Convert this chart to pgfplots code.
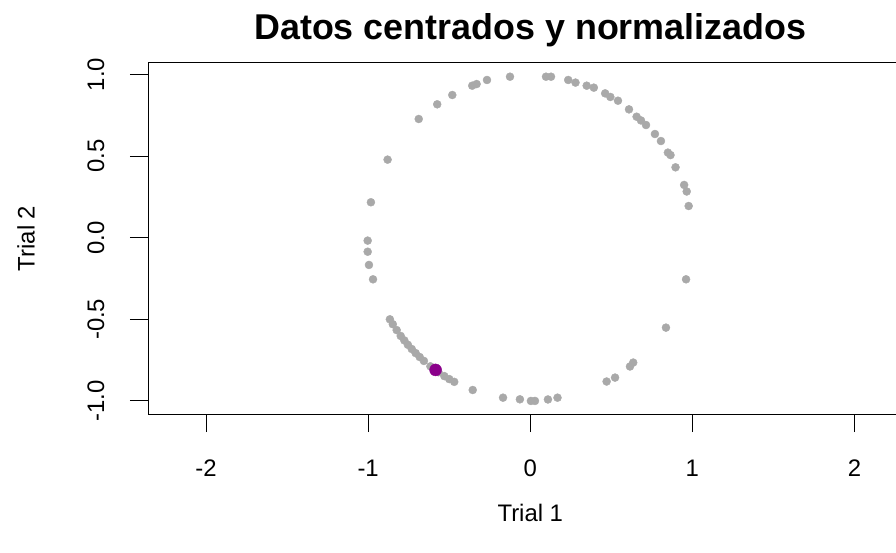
\documentclass[border=0pt]{standalone}
\usepackage{pgfplots}
\pgfplotsset{compat=1.18}
\usepackage{fontspec}
\setmainfont{Liberation Sans}
\definecolor{ptgray}{HTML}{A9A9A9}
\definecolor{ptpurple}{HTML}{8B008B}
\begin{document}
\begin{tikzpicture}
\useasboundingbox (0,0) rectangle (896bp,553bp);
\begin{axis}[
  at={(148bp,139bp)}, anchor=south west,
  scale only axis, width=748bp, height=351bp,
  xmin=-2.358, xmax=2.256, ymin=-1.080, ymax=1.070,
  axis y line*=left,
  xtick={-2,-1,0,1,2}, xticklabels={-2,-1,0,1,2},
  ytick={-1,-0.5,0,0.5,1}, yticklabels={-1.0,-0.5,0.0,0.5,1.0},
  tick align=outside, xtick pos=bottom, ytick pos=left,
  major tick length=18bp,
  tick style={black, line width=1bp},
  axis line style={black, line width=1bp},
  ticklabel style={font=\fontsize{24}{28}\selectfont},
  xticklabel style={anchor=center},
  xticklabel shift=36bp,
  yticklabel style={anchor=center, rotate=90},
  yticklabel shift=34bp,
  xlabel={Trial 1}, ylabel={Trial 2},
  label style={font=\fontsize{24}{28}\selectfont},
  xlabel style={at={(axis description cs:0.5111,0)}, anchor=center, yshift=-99bp},
  ylabel style={at={(axis description cs:0,0.5)}, anchor=center, yshift=122bp},
  title={Datos centrados y normalizados},
  title style={font=\fontsize{36}{42}\selectfont\bfseries, at={(axis description cs:0.5111,1)}, anchor=base, yshift=18bp},
  clip=false,
]
\addplot[only marks, mark=*, mark size=4bp, color=ptgray, mark options={draw=ptgray, fill=ptgray}] table {
x y
-0.880 0.478
-0.688 0.727
-0.574 0.817
-0.481 0.874
-0.358 0.931
-0.331 0.941
-0.267 0.966
-0.125 0.986
0.097 0.986
0.128 0.986
0.234 0.966
0.279 0.950
0.348 0.931
0.392 0.919
0.462 0.884
0.494 0.862
0.541 0.839
0.609 0.786
0.656 0.741
0.683 0.718
0.714 0.690
0.769 0.635
0.806 0.592
0.849 0.521
0.865 0.506
0.896 0.431
0.949 0.323
0.965 0.283
0.977 0.194
0.961 -0.255
0.837 -0.551
0.615 -0.789
0.635 -0.765
0.471 -0.881
0.523 -0.857
0.168 -0.980
0.109 -0.991
0.029 -1.000
0.004 -1.000
-0.064 -0.990
-0.168 -0.980
-0.355 -0.933
-0.469 -0.883
-0.500 -0.866
-0.530 -0.848
-0.566 -0.824
-0.616 -0.788
-0.656 -0.755
-0.682 -0.731
-0.707 -0.707
-0.731 -0.682
-0.755 -0.656
-0.777 -0.629
-0.799 -0.602
-0.824 -0.566
-0.848 -0.530
-0.866 -0.500
-0.983 0.217
-1.003 -0.018
-1.003 -0.086
-0.995 -0.167
-0.970 -0.255
};
\addplot[only marks, mark=*, mark size=6bp, color=ptpurple, mark options={draw=ptpurple, fill=ptpurple}] coordinates {(-0.584,-0.810)};
\end{axis}
\end{tikzpicture}
\end{document}
